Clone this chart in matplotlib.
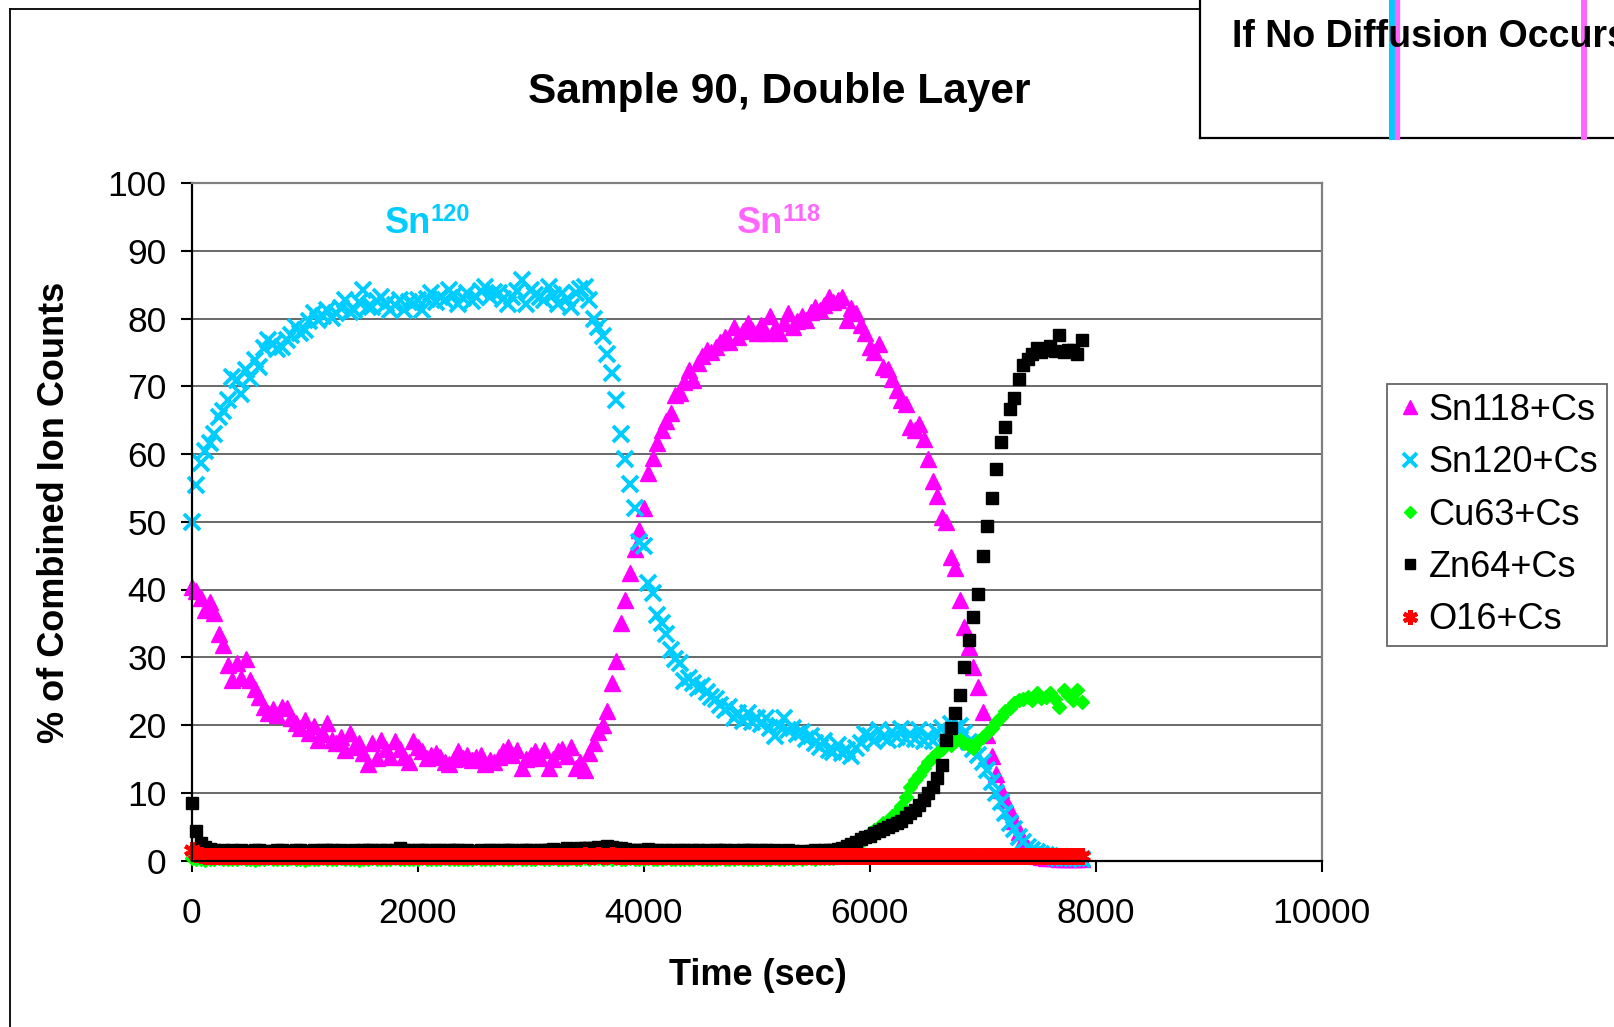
import numpy as np
import matplotlib
matplotlib.use("Agg")
from matplotlib import pyplot as plt
from matplotlib.lines import Line2D

plt.rcParams['font.family'] = ['Liberation Sans', 'DejaVu Sans']

# sampling interval of the depth profile (sec)
t_step = 40

# Sn118+Cs, % of combined ion counts
sn118 = [
    40.4, 39.8, 38.7, 37.0, 38.2, 36.5, 33.5, 31.8, 28.8, 26.6,
    29.1, 26.9, 29.8, 26.6, 25.3, 24.2, 22.7, 21.7, 22.4, 21.5,
    22.7, 22.5, 21.0, 20.3, 19.6, 20.7, 18.8, 19.8, 17.8, 18.6,
    20.3, 17.8, 17.3, 18.3, 16.3, 18.8, 16.8, 17.4, 15.9, 14.3,
    17.3, 15.1, 17.8, 16.5, 15.3, 17.6, 16.4, 15.3, 14.6, 17.6,
    16.8, 16.2, 15.1, 15.6, 15.8, 15.3, 14.6, 14.3, 15.0, 16.1,
    15.2, 15.6, 14.9, 15.3, 15.6, 14.3, 14.8, 14.6, 15.3, 16.2,
    16.8, 15.5, 16.3, 13.6, 15.0, 15.6, 16.1, 15.2, 16.3, 13.6,
    15.0, 16.1, 16.5, 15.4, 16.8, 13.6, 14.6, 13.4, 15.8, 17.3,
    19.0, 20.0, 22.0, 26.2, 29.5, 35.0, 38.4, 42.5, 46.0, 48.8,
    52.0, 57.2, 59.4, 61.6, 63.5, 64.8, 66.0, 68.7, 69.0, 70.6,
    72.4, 70.9, 73.5, 74.4, 75.3, 75.0, 75.8, 76.5, 77.3, 76.6,
    78.8, 77.3, 78.2, 79.3, 78.3, 77.9, 79.0, 77.8, 80.3, 78.6,
    77.8, 79.4, 80.8, 78.8, 79.6, 80.3, 79.8, 80.9, 81.7, 81.3,
    82.0, 83.2, 82.4, 82.7, 83.2, 79.8, 81.6, 80.8, 79.0, 77.8,
    75.8, 75.0, 76.3, 72.9, 72.5, 71.0, 69.4, 68.0, 67.4, 64.0,
    63.6, 64.5, 62.2, 59.3, 56.0, 53.8, 50.7, 49.9, 44.8, 43.1,
    38.5, 34.5, 31.5, 28.5, 25.6, 21.9, 18.5, 15.4, 12.8, 10.4,
    8.9, 7.5, 5.8, 4.2, 3.0, 1.8, 1.1, 0.7, 0.5, 0.4,
    0.3, 0.3, 0.2, 0.2, 0.2, 0.2, 0.2, 0.2,
]

# Sn120+Cs
sn120 = [
    50.0, 55.4, 58.6, 60.5, 61.6, 63.0, 65.5, 66.4, 68.0, 71.4,
    70.9, 68.9, 72.4, 71.2, 73.9, 72.8, 75.6, 76.8, 76.3, 75.5,
    75.8, 76.9, 77.5, 78.8, 77.9, 78.3, 79.6, 80.8, 79.8, 80.4,
    81.2, 80.1, 80.8, 81.6, 82.7, 80.9, 81.2, 82.4, 84.2, 81.7,
    81.7, 82.6, 83.2, 82.1, 81.2, 82.0, 82.7, 81.2, 82.5, 82.2,
    82.7, 81.2, 82.9, 83.7, 82.4, 83.2, 82.8, 84.2, 83.4, 82.2,
    83.0, 83.7, 82.6, 83.2, 84.0, 84.7, 83.2, 83.9, 83.7, 82.9,
    82.2, 83.2, 84.1, 85.7, 82.2, 84.2, 83.5, 83.2, 82.7, 84.7,
    83.4, 82.2, 83.7, 82.9, 81.7, 83.7, 84.3, 84.7, 82.7, 80.0,
    78.8, 77.4, 74.8, 71.9, 68.0, 63.0, 59.3, 55.5, 52.0, 47.0,
    46.4, 41.0, 39.5, 36.2, 35.0, 33.4, 31.0, 29.7, 29.2, 26.5,
    27.0, 26.2, 25.4, 25.8, 24.9, 24.2, 23.8, 23.0, 22.2, 22.6,
    21.1, 21.8, 20.6, 21.7, 20.4, 21.1, 20.2, 21.0, 19.5, 18.4,
    19.8, 21.1, 19.2, 19.5, 18.6, 19.0, 17.9, 18.4, 17.4, 16.8,
    17.6, 16.3, 16.0, 17.0, 15.8, 16.3, 15.4, 16.6, 17.4, 18.6,
    18.4, 17.6, 19.3, 18.2, 17.8, 19.0, 18.3, 19.4, 17.9, 18.6,
    18.0, 19.2, 17.7, 18.4, 17.6, 18.9, 19.5, 18.6, 20.2, 19.6,
    19.9, 18.8, 17.5, 16.4, 15.6, 14.6, 13.4, 11.6, 10.0, 8.6,
    7.0, 5.6, 4.6, 3.4, 2.7, 2.0, 1.6, 1.3, 1.0, 0.8,
    0.6, 0.5, 0.4, 0.4, 0.3, 0.3, 0.3, 0.2,
]

# Cu63+Cs
cu63 = [
    0.3, 0.2, 0.2, 0.1, 0.2, 0.2, 0.3, 0.2, 0.2, 0.2,
    0.2, 0.3, 0.2, 0.2, 0.1, 0.2, 0.2, 0.3, 0.2, 0.2,
    0.2, 0.2, 0.3, 0.2, 0.2, 0.1, 0.2, 0.2, 0.2, 0.3,
    0.2, 0.2, 0.2, 0.3, 0.2, 0.2, 0.2, 0.1, 0.2, 0.2,
    0.3, 0.2, 0.2, 0.2, 0.2, 0.3, 0.2, 0.2, 0.2, 0.2,
    0.2, 0.3, 0.2, 0.2, 0.2, 0.2, 0.3, 0.2, 0.2, 0.2,
    0.2, 0.2, 0.2, 0.3, 0.2, 0.2, 0.2, 0.2, 0.3, 0.2,
    0.2, 0.2, 0.3, 0.2, 0.2, 0.2, 0.2, 0.3, 0.2, 0.2,
    0.3, 0.2, 0.2, 0.2, 0.3, 0.2, 0.2, 0.3, 0.2, 0.3,
    0.3, 0.2, 0.3, 0.2, 0.3, 0.2, 0.2, 0.3, 0.2, 0.2,
    0.2, 0.3, 0.2, 0.2, 0.2, 0.3, 0.2, 0.2, 0.2, 0.2,
    0.2, 0.2, 0.3, 0.2, 0.2, 0.2, 0.2, 0.3, 0.2, 0.2,
    0.2, 0.3, 0.2, 0.2, 0.2, 0.2, 0.3, 0.2, 0.2, 0.3,
    0.2, 0.2, 0.3, 0.2, 0.3, 0.2, 0.3, 0.3, 0.2, 0.3,
    0.3, 0.3, 0.4, 0.5, 0.7, 1.0, 1.4, 2.0, 2.7, 3.4,
    4.0, 4.5, 5.0, 5.5, 5.9, 6.5, 7.2, 8.0, 9.4, 10.8,
    11.9, 12.6, 13.6, 14.6, 15.3, 15.8, 16.5, 17.3, 17.0, 17.6,
    17.8, 17.4, 17.0, 16.6, 17.6, 18.3, 18.8, 19.6, 20.4, 21.2,
    22.0, 22.5, 23.2, 23.7, 23.9, 24.2, 23.7, 24.7, 24.0, 24.2,
    24.7, 23.9, 22.7, 25.2, 24.4, 23.7, 25.2, 23.4,
]

# Zn64+Cs
zn64 = [
    8.5, 4.3, 2.6, 2.0, 1.7, 1.5, 1.4, 1.5, 1.3, 1.6,
    1.4, 1.5, 1.4, 1.3, 1.5, 1.6, 1.4, 1.4, 1.3, 1.6,
    1.5, 1.4, 1.4, 1.6, 1.5, 1.3, 1.4, 1.5, 1.4, 1.5,
    1.6, 1.5, 1.4, 1.5, 1.4, 1.3, 1.5, 1.4, 1.5, 1.6,
    1.5, 1.4, 1.6, 1.5, 1.4, 1.5, 1.8, 1.6, 1.5, 1.4,
    1.5, 1.6, 1.5, 1.4, 1.6, 1.5, 1.4, 1.5, 1.6, 1.5,
    1.4, 1.5, 1.4, 1.3, 1.5, 1.4, 1.6, 1.5, 1.4, 1.5,
    1.6, 1.5, 1.4, 1.5, 1.6, 1.5, 1.4, 1.6, 1.5, 1.6,
    1.7, 1.6, 1.5, 1.8, 1.7, 1.6, 1.8, 1.9, 1.8, 1.9,
    2.0, 1.9, 2.1, 2.0, 1.9, 1.8, 1.7, 1.6, 1.6, 1.5,
    1.6, 1.7, 1.5, 1.6, 1.4, 1.6, 1.5, 1.4, 1.6, 1.5,
    1.4, 1.5, 1.6, 1.4, 1.5, 1.4, 1.5, 1.6, 1.5, 1.4,
    1.5, 1.4, 1.5, 1.6, 1.5, 1.4, 1.6, 1.5, 1.4, 1.5,
    1.4, 1.3, 1.5, 1.4, 1.3, 1.4, 1.3, 1.4, 1.5, 1.4,
    1.5, 1.6, 1.5, 1.7, 1.9, 2.2, 2.5, 2.8, 3.1, 3.4,
    3.6, 4.0, 4.3, 4.6, 5.0, 5.2, 5.5, 5.8, 6.4, 7.0,
    7.5, 8.2, 8.9, 9.9, 10.9, 12.2, 14.1, 17.8, 19.5, 21.8,
    24.5, 28.5, 32.6, 36.0, 39.4, 45.0, 49.3, 53.5, 57.8, 61.8,
    64.0, 66.7, 68.2, 71.0, 73.1, 74.0, 74.8, 75.6, 75.0, 75.3,
    76.0, 75.2, 77.6, 75.1, 75.4, 75.3, 74.8, 76.8,
]

# O16+Cs
o16 = [
    1.5, 1.0, 0.8, 0.7, 0.6, 0.7, 0.6, 0.6, 0.7, 0.6,
    0.6, 0.7, 0.6, 0.6, 0.7, 0.6, 0.6, 0.7, 0.6, 0.7,
    0.6, 0.6, 0.7, 0.6, 0.6, 0.7, 0.6, 0.6, 0.6, 0.7,
    0.6, 0.7, 0.6, 0.6, 0.7, 0.6, 0.6, 0.6, 0.7, 0.6,
    0.7, 0.6, 0.6, 0.7, 0.6, 0.6, 0.7, 0.6, 0.6, 0.6,
    0.6, 0.7, 0.6, 0.6, 0.7, 0.6, 0.6, 0.7, 0.6, 0.6,
    0.7, 0.6, 0.6, 0.6, 0.7, 0.6, 0.6, 0.7, 0.6, 0.6,
    0.6, 0.7, 0.6, 0.6, 0.7, 0.6, 0.6, 0.6, 0.7, 0.6,
    0.7, 0.6, 0.7, 0.7, 0.6, 0.7, 0.7, 0.8, 0.7, 0.7,
    0.8, 0.7, 0.7, 0.8, 0.7, 0.7, 0.6, 0.7, 0.6, 0.6,
    0.6, 0.7, 0.6, 0.6, 0.7, 0.6, 0.6, 0.6, 0.7, 0.6,
    0.6, 0.6, 0.7, 0.6, 0.6, 0.6, 0.7, 0.6, 0.6, 0.6,
    0.7, 0.6, 0.6, 0.6, 0.6, 0.7, 0.6, 0.6, 0.6, 0.7,
    0.6, 0.6, 0.6, 0.7, 0.6, 0.6, 0.6, 0.6, 0.7, 0.6,
    0.6, 0.6, 0.7, 0.6, 0.6, 0.6, 0.6, 0.7, 0.6, 0.6,
    0.6, 0.7, 0.6, 0.6, 0.6, 0.6, 0.7, 0.6, 0.6, 0.6,
    0.6, 0.6, 0.7, 0.6, 0.6, 0.6, 0.6, 0.6, 0.7, 0.6,
    0.6, 0.6, 0.6, 0.7, 0.6, 0.6, 0.6, 0.6, 0.6, 0.7,
    0.6, 0.6, 0.6, 0.6, 0.7, 0.6, 0.6, 0.6, 0.6, 0.6,
    0.7, 0.6, 0.6, 0.6, 0.6, 0.6, 0.7, 0.6,
]

time = np.arange(len(sn118)) * t_step

x_ticks = [0, 2000, 4000, 6000, 8000, 10000]
y_ticks = [0, 10, 20, 30, 40, 50, 60, 70, 80, 90, 100]

W, H = 1615, 1027


def fx(px):
    return px / W


def fy(py):
    return 1 - py / H


fig = plt.figure(figsize=(W / 100, H / 100), dpi=100)
ax = fig.add_axes([fx(191.6), fy(860.5), fx(1321.5) - fx(191.6),
                   fy(183) - fy(860.5)])

# Datenreihen in Excel-Reihenfolge
ax.plot(time, sn118, ls="none", marker="^", ms=11.5, color="#FF00FF",
        mec="#FF00FF", label="Sn118+Cs", clip_on=False)
ax.plot(time, sn120, ls="none", marker="x", ms=11.5, mew=2.8, color="#00CCFF",
        label="Sn120+Cs", clip_on=False)
ax.plot(time, cu63, ls="none", marker="D", ms=7, color="#00FF00",
        mec="#00FF00", label="Cu63+Cs", clip_on=False)
ax.plot(time, zn64, ls="none", marker="s", ms=8.5, color="black",
        label="Zn64+Cs", clip_on=False)
ax.plot(time, o16, ls="none", marker=(6, 2, 0), ms=12, mew=3,
        color="#FF0000", label="O16+Cs", clip_on=False)

ax.set_xlim(0, 10000)
ax.set_ylim(0, 100)
ax.set_xticks(x_ticks)
ax.set_yticks(y_ticks)
ax.set_axisbelow(True)
ax.yaxis.grid(True, color="#404040", lw=1.1)
ax.tick_params(axis="both", direction="out", length=8, width=1.5,
               labelsize=25.5)
ax.tick_params(axis="x", pad=18)
ax.tick_params(axis="y", pad=10)
for side in ["left", "bottom"]:
    ax.spines[side].set_color("black")
    ax.spines[side].set_linewidth(1.6)
for side in ["top", "right"]:
    ax.spines[side].set_color("#808080")
    ax.spines[side].set_linewidth(1.6)

ax.set_xlabel("Time (sec)", fontsize=26, fontweight="bold", va="center")
ax.xaxis.set_label_coords(0.501, -0.170)
ax.set_ylabel("% of Combined Ion Counts", fontsize=26, fontweight="bold",
              va="center")
ax.yaxis.set_label_coords(-0.121, 0.514)

# Beschriftung der Schichten
ax.text(1712, 92.6, "Sn", color="#00CCFF", fontsize=26, fontweight="bold",
        va="baseline", ha="left")
ax.annotate("120", xy=(1712, 92.6), xytext=(33, 8.5),
            textcoords="offset points", color="#00CCFF", fontsize=17,
            fontweight="bold", va="baseline", ha="left")
ax.text(4822, 92.6, "Sn", color="#FF66FF", fontsize=26, fontweight="bold",
        va="baseline", ha="left")
ax.annotate("118", xy=(4822, 92.6), xytext=(33, 8.5),
            textcoords="offset points", color="#FF66FF", fontsize=17,
            fontweight="bold", va="baseline", ha="left")

fig.text(fx(779), fy(103), "Sample 90, Double Layer", fontsize=30.5,
         fontweight="bold", ha="center", va="baseline")

leg = ax.legend(loc="upper left", bbox_to_anchor=(fx(1387), fy(384)),
                bbox_transform=fig.transFigure, borderaxespad=0,
                fontsize=26, frameon=True, fancybox=False,
                handlelength=0.75, handletextpad=0.15, borderpad=0.25,
                labelspacing=0.48, numpoints=1, markerscale=0.9)
leg.get_frame().set_edgecolor("#404040")
leg.get_frame().set_linewidth(1.3)

# Rahmen des Diagrammbereichs
fig.add_artist(Line2D([fx(10), fx(10)], [fy(8.5), fy(H + 5)],
                      transform=fig.transFigure, color="black", lw=1.3))
fig.add_artist(Line2D([fx(10), fx(1200)], [fy(8.5), fy(8.5)],
                      transform=fig.transFigure, color="black", lw=1.3))

# Kasten oben rechts
fig.add_artist(Line2D([fx(1200), fx(1200)], [fy(-5), fy(138)],
                      transform=fig.transFigure, color="black", lw=1.6))
fig.add_artist(Line2D([fx(1200), fx(W + 5)], [fy(138), fy(138)],
                      transform=fig.transFigure, color="black", lw=1.6))
fig.add_artist(Line2D([fx(1392), fx(1392)], [fy(0), fy(137)],
                      transform=fig.transFigure, color="#00CCFF", lw=4.3))
fig.add_artist(Line2D([fx(1397.5), fx(1397.5)], [fy(0), fy(137)],
                      transform=fig.transFigure, color="#FF66FF", lw=3.8))
fig.add_artist(Line2D([fx(1584), fx(1584)], [fy(0), fy(137)],
                      transform=fig.transFigure, color="#FF66FF", lw=4.3))
fig.text(fx(1232), fy(47), "If No Diffusion Occurs", fontsize=27,
         fontweight="bold", ha="left", va="baseline")

fig.savefig("out.png", dpi=100)
